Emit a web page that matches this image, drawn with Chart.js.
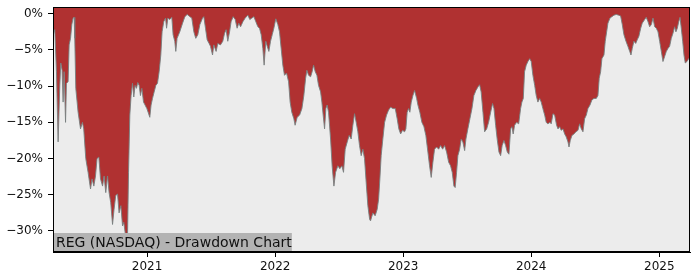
<!DOCTYPE html>
<html>
<head>
<meta charset="utf-8">
<script src="https://cdn.jsdelivr.net/npm/chart.js@4/dist/chart.umd.min.js"></script>
<style>
  html, body { margin: 0; padding: 0; background: #fff; }
  #wrap { width: 700px; height: 280px; }
</style>
</head>
<body>
<div id="wrap"><canvas id="ddChart" width="700" height="280"></canvas></div>
<script>
// Drawdown of REG (NASDAQ), dates as decimal years, values in percent
const dates = [
  2020.266, 2020.279, 2020.292, 2020.305, 2020.318, 2020.326, 2020.336, 2020.344, 2020.352, 2020.363,
  2020.370, 2020.383, 2020.391, 2020.402, 2020.412, 2020.422, 2020.430, 2020.435, 2020.443, 2020.461,
  2020.480, 2020.495, 2020.505, 2020.521, 2020.539, 2020.558, 2020.570, 2020.584, 2020.597, 2020.609,
  2020.623, 2020.636, 2020.652, 2020.664, 2020.677, 2020.691, 2020.703, 2020.716, 2020.730, 2020.742,
  2020.755, 2020.769, 2020.781, 2020.795, 2020.808, 2020.818, 2020.834, 2020.838, 2020.847, 2020.855,
  2020.865, 2020.875, 2020.886, 2020.896, 2020.906, 2020.917, 2020.927, 2020.938, 2020.948, 2020.959,
  2020.972, 2020.984, 2020.998, 2021.008, 2021.021, 2021.031, 2021.042, 2021.055, 2021.068, 2021.081,
  2021.094, 2021.107, 2021.117, 2021.130, 2021.144, 2021.152, 2021.162, 2021.177, 2021.193, 2021.203,
  2021.216, 2021.224, 2021.234, 2021.255, 2021.277, 2021.295, 2021.313, 2021.334, 2021.349, 2021.365,
  2021.380, 2021.396, 2021.412, 2021.433, 2021.443, 2021.456, 2021.469, 2021.484, 2021.495, 2021.511,
  2021.521, 2021.539, 2021.552, 2021.573, 2021.591, 2021.605, 2021.617, 2021.630, 2021.644, 2021.656,
  2021.672, 2021.688, 2021.703, 2021.716, 2021.730, 2021.748, 2021.766, 2021.787, 2021.802, 2021.818,
  2021.834, 2021.849, 2021.865, 2021.878, 2021.891, 2021.904, 2021.914, 2021.927, 2021.938, 2021.951,
  2021.964, 2021.977, 2021.990, 2022.005, 2022.021, 2022.034, 2022.047, 2022.060, 2022.073, 2022.089,
  2022.105, 2022.117, 2022.130, 2022.146, 2022.156, 2022.172, 2022.191, 2022.209, 2022.224, 2022.238,
  2022.248, 2022.261, 2022.277, 2022.289, 2022.300, 2022.313, 2022.326, 2022.339, 2022.355, 2022.365,
  2022.375, 2022.386, 2022.396, 2022.406, 2022.417, 2022.433, 2022.445, 2022.459, 2022.472, 2022.490,
  2022.505, 2022.521, 2022.534, 2022.547, 2022.563, 2022.578, 2022.594, 2022.607, 2022.620, 2022.633,
  2022.646, 2022.659, 2022.672, 2022.685, 2022.698, 2022.711, 2022.724, 2022.738, 2022.745, 2022.763,
  2022.781, 2022.797, 2022.808, 2022.818, 2022.828, 2022.841, 2022.855, 2022.870, 2022.886, 2022.902,
  2022.920, 2022.938, 2022.953, 2022.966, 2022.980, 2022.995, 2023.011, 2023.021, 2023.031, 2023.042,
  2023.052, 2023.063, 2023.076, 2023.089, 2023.105, 2023.115, 2023.130, 2023.146, 2023.162, 2023.177,
  2023.193, 2023.206, 2023.219, 2023.232, 2023.245, 2023.261, 2023.277, 2023.292, 2023.308, 2023.323,
  2023.339, 2023.355, 2023.370, 2023.383, 2023.396, 2023.406, 2023.417, 2023.427, 2023.441, 2023.453,
  2023.466, 2023.480, 2023.490, 2023.505, 2023.521, 2023.537, 2023.552, 2023.568, 2023.584, 2023.597,
  2023.609, 2023.623, 2023.636, 2023.652, 2023.667, 2023.683, 2023.698, 2023.709, 2023.722, 2023.734,
  2023.748, 2023.761, 2023.773, 2023.787, 2023.800, 2023.813, 2023.826, 2023.839, 2023.849, 2023.859,
  2023.870, 2023.886, 2023.902, 2023.917, 2023.927, 2023.938, 2023.948, 2023.961, 2023.974, 2023.988,
  2024.000, 2024.013, 2024.027, 2024.039, 2024.052, 2024.066, 2024.078, 2024.091, 2024.105, 2024.117,
  2024.130, 2024.146, 2024.156, 2024.170, 2024.183, 2024.198, 2024.209, 2024.222, 2024.234, 2024.248,
  2024.261, 2024.273, 2024.287, 2024.295, 2024.305, 2024.318, 2024.334, 2024.349, 2024.365, 2024.378,
  2024.391, 2024.404, 2024.417, 2024.430, 2024.443, 2024.459, 2024.474, 2024.490, 2024.508, 2024.521,
  2024.531, 2024.542, 2024.552, 2024.568, 2024.578, 2024.589, 2024.599, 2024.615, 2024.630, 2024.646,
  2024.664, 2024.683, 2024.698, 2024.711, 2024.724, 2024.740, 2024.755, 2024.769, 2024.779, 2024.789,
  2024.802, 2024.816, 2024.828, 2024.841, 2024.855, 2024.867, 2024.886, 2024.898, 2024.912, 2024.925,
  2024.938, 2024.951, 2024.964, 2024.977, 2024.990, 2025.003, 2025.016, 2025.029, 2025.042, 2025.055,
  2025.068, 2025.081, 2025.094, 2025.107, 2025.120, 2025.130, 2025.141, 2025.152, 2025.162, 2025.172,
  2025.183, 2025.193, 2025.203, 2025.216, 2025.230, 2025.240
];

const drawdown = [
  -3.0, -2.2, -8.0, -17.7, -9.9, -6.8, -7.8, -12.2, -8.0, -15.0,
  -9.6, -9.4, -4.3, -3.4, -1.5, -0.6, -0.5, -3.4, -10.3, -13.6,
  -15.9, -15.0, -15.9, -20.0, -21.9, -24.2, -22.8, -23.8, -22.4, -20.0,
  -19.8, -22.8, -23.8, -22.4, -24.7, -22.4, -24.7, -26.1, -29.1, -27.0,
  -25.1, -24.9, -27.5, -26.5, -29.3, -28.8, -31.0, -31.5, -30.7, -21.9,
  -14.0, -11.3, -9.6, -11.5, -9.9, -10.3, -9.5, -9.9, -11.3, -10.3,
  -12.2, -12.6, -13.1, -13.6, -14.3, -12.6, -11.7, -10.8, -9.9, -9.6,
  -8.0, -5.7, -2.5, -1.1, -0.6, -2.0, -0.6, -0.8, -0.5, -2.9,
  -3.8, -5.2, -3.4, -2.5, -1.3, -0.4, -0.1, -0.4, -0.6, -2.5,
  -3.4, -2.9, -1.5, -0.6, -0.4, -2.0, -3.6, -4.1, -4.5, -5.7,
  -4.3, -5.2, -4.1, -4.3, -3.8, -2.7, -2.2, -3.8, -2.5, -1.1,
  -0.4, -0.8, -2.0, -1.3, -1.8, -1.1, -0.6, -0.2, -0.8, -0.6,
  -0.4, -1.1, -1.8, -2.0, -2.9, -4.8, -7.1, -3.8, -4.5, -5.2,
  -3.8, -2.9, -2.0, -0.7, -1.5, -2.5, -4.8, -7.1, -8.5, -8.2,
  -9.4, -12.2, -13.6, -14.5, -15.4, -14.3, -14.0, -13.1, -11.3, -8.9,
  -7.8, -8.5, -8.7, -8.0, -7.1, -8.0, -8.5, -9.9, -10.8, -12.2,
  -14.0, -15.9, -13.1, -12.6, -13.6, -17.3, -21.0, -23.8, -21.9, -21.0,
  -21.4, -21.0, -21.9, -18.7, -17.7, -16.8, -17.3, -15.4, -13.8, -15.0,
  -16.3, -18.2, -19.6, -18.7, -20.0, -23.3, -26.5, -28.4, -28.6, -27.5,
  -27.9, -27.0, -25.6, -22.8, -19.6, -17.3, -15.0, -14.0, -13.3, -12.9,
  -13.1, -13.1, -14.5, -15.9, -16.6, -16.1, -16.3, -15.9, -13.6, -13.1,
  -13.6, -12.2, -11.3, -10.6, -11.7, -12.6, -13.6, -15.0, -15.6, -16.8,
  -19.1, -21.0, -22.6, -20.5, -18.7, -18.4, -18.7, -18.2, -18.7, -18.2,
  -19.1, -20.5, -21.0, -21.9, -23.8, -24.0, -21.9, -19.6, -18.7, -17.3,
  -17.7, -18.9, -17.3, -15.9, -14.5, -13.1, -11.3, -10.6, -10.1, -9.8,
  -10.8, -13.6, -16.3, -15.9, -15.0, -13.6, -12.4, -13.1, -15.4, -17.3,
  -19.1, -19.6, -18.2, -17.5, -18.2, -19.1, -19.4, -15.9, -15.6, -16.6,
  -15.4, -15.0, -15.2, -13.1, -12.2, -11.7, -8.0, -7.1, -6.6, -6.2,
  -6.6, -8.5, -9.9, -11.3, -12.2, -11.7, -12.2, -13.1, -14.0, -15.0,
  -15.2, -15.0, -15.2, -13.8, -14.0, -15.4, -15.9, -15.6, -16.1, -15.9,
  -16.6, -17.0, -17.7, -18.4, -17.5, -16.8, -16.6, -16.3, -16.1, -15.2,
  -15.9, -16.3, -14.5, -14.0, -13.1, -12.6, -11.9, -11.7, -11.7, -11.3,
  -8.9, -8.0, -6.2, -5.7, -3.8, -2.5, -1.3, -0.6, -0.4, -0.2,
  -0.1, -0.2, -0.3, -1.5, -2.9, -3.8, -4.5, -5.2, -5.7, -4.8,
  -3.8, -4.1, -3.6, -3.1, -2.0, -1.3, -0.8, -0.5, -1.1, -1.8,
  -1.5, -0.6, -1.8, -2.0, -2.5, -3.8, -5.2, -6.6, -5.9, -5.2,
  -4.8, -4.5, -3.4, -2.7, -1.8, -2.5, -2.0, -1.1, -0.5, -2.0,
  -3.8, -5.7, -6.8, -6.6, -6.2, -6.0
];

const yearTicks = [2021, 2022, 2023, 2024, 2025];
const pctTicks = [-30, -25, -20, -15, -10, -5, 0];
const chartTitle = 'REG (NASDAQ) - Drawdown Chart';

const points = dates.map((d, i) => ({ x: d, y: drawdown[i] }));

// plot background, title box and frame like the original
const decorPlugin = {
    id: 'decor',
    beforeDatasetsDraw(chart) {
        const a = chart.chartArea;
        const ctx = chart.ctx;
        ctx.save();
        ctx.fillStyle = '#ececec';
        ctx.fillRect(a.left, a.top, a.right - a.left, a.bottom - a.top);
        ctx.restore();
    },
    afterDraw(chart) {
        const a = chart.chartArea;
        const ctx = chart.ctx;
        ctx.save();
        ctx.font = '14px "DejaVu Sans"';
        const w = ctx.measureText(chartTitle).width;
        ctx.fillStyle = '#b3b3b3';
        ctx.fillRect(a.left, a.bottom - 19, w + 3, 19);
        ctx.fillStyle = '#111';
        ctx.textBaseline = 'alphabetic';
        ctx.fillText(chartTitle, a.left + 3, a.bottom - 5.3);
        ctx.strokeStyle = '#000';
        ctx.lineWidth = 1;
        ctx.strokeRect(a.left + 0.5, a.top + 0.5, a.right - a.left - 1, a.bottom - a.top - 1);
        ctx.restore();
    }
};

const ctx = document.getElementById('ddChart').getContext('2d');
new Chart(ctx, {
    type: 'line',
    data: {
        datasets: [{
            label: 'Drawdown',
            data: points,
            borderColor: 'rgba(120,128,128,0.9)',
            borderWidth: 1,
            backgroundColor: '#b03131',
            fill: 'end',
            pointRadius: 0,
            tension: 0
        }]
    },
    options: {
        responsive: false,
        animation: false,
        devicePixelRatio: 1,
        layout: { padding: { left: 0, top: 7, right: 10, bottom: 0 } },
        plugins: {
            legend: { display: false },
            tooltip: { enabled: false }
        },
        scales: {
            x: {
                type: 'linear',
                min: 2020.265,
                max: 2025.24,
                afterBuildTicks(scale) {
                    scale.ticks = yearTicks.map(v => ({ value: v }));
                },
                afterFit(scale) {
                    scale.height = 28;
                    scale.paddingLeft = 0;
                    scale.paddingRight = 0;
                },
                grid: { drawOnChartArea: false, drawTicks: true, tickLength: 5, color: '#000' },
                border: { display: true, color: '#000' },
                ticks: {
                    padding: 3,
                    maxRotation: 0,
                    color: '#111',
                    font: { family: 'DejaVu Sans', size: 12 },
                    callback: v => String(v)
                }
            },
            y: {
                min: -32.9,
                max: 0.93,
                afterBuildTicks(scale) {
                    scale.ticks = pctTicks.map(v => ({ value: v }));
                },
                afterFit(scale) {
                    scale.width = 53;
                    scale.paddingTop = 0;
                    scale.paddingBottom = 0;
                },
                grid: { drawOnChartArea: false, drawTicks: true, tickLength: 5, color: '#000' },
                border: { display: true, color: '#000' },
                ticks: {
                    padding: 5,
                    color: '#111',
                    font: { family: 'DejaVu Sans', size: 12 },
                    callback: v => (v < 0 ? '\u2212' : '') + Math.abs(v) + '%'
                }
            }
        }
    },
    plugins: [decorPlugin]
});
</script>
</body>
</html>
